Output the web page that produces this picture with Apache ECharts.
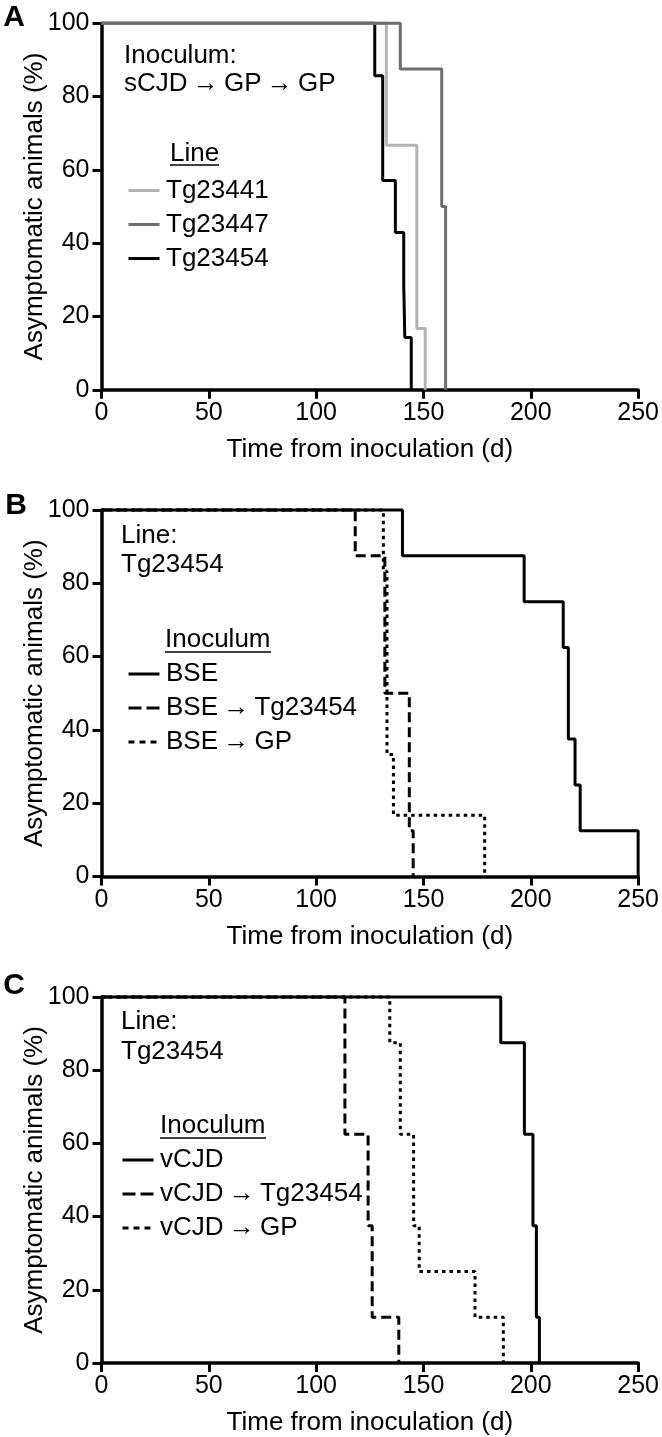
<!DOCTYPE html>
<html>
<head>
<meta charset="utf-8">
<script src="https://cdn.jsdelivr.net/npm/echarts@6/dist/echarts.min.js"></script>
<style>
  html, body { margin: 0; padding: 0; background: #fff; }
  #chart { width: 662px; height: 1437px; }
</style>
</head>
<body>
<div id="chart"></div>
<script>
// survival curves, [day, % asymptomatic]; each point is where the step lands
const tg23441 = [[0, 100], [132.7, 66.7], [146.9, 16.7], [150.8, 0]]
const tg23447 = [[0, 100], [139.2, 87.5], [158.5, 50], [160.3, 0]]
const tg23454 = [[0, 100], [127.3, 85.7], [131, 57.1], [136.9, 42.9], [140.8, 28.6], [141.3, 14.3], [144.3, 0]]

const bse = [[0, 100], [140.2, 87.5], [196.9, 75], [215.1, 62.5], [217.5, 37.5], [220.6, 25], [223, 12.5], [250, 0]]
const bseTg = [[0, 100], [118.2, 87.5], [132, 50], [143.4, 12.5], [145.2, 0]]
const bseGp = [[0, 100], [131.3, 83.3], [133, 33.3], [136, 16.7], [178.5, 0]]

const vcjd = [[0, 100], [186, 87.5], [197, 62.5], [201, 37.5], [202.6, 12.5], [204, 0]]
const vcjdTg = [[0, 100], [113.4, 62.5], [124.2, 37.5], [126.1, 12.5], [138.5, 0]]
const vcjdGp = [[0, 100], [134.3, 87.5], [139.2, 62.5], [145.4, 37.5], [148, 25], [174, 12.5], [187.2, 0]]

const legendA = ['Tg23441', 'Tg23447', 'Tg23454']
const legendB = ['BSE', 'BSE \u2192 Tg23454', 'BSE \u2192 GP']
const legendC = ['vCJD', 'vCJD \u2192 Tg23454', 'vCJD \u2192 GP']

const FONT = 'Liberation Sans, Arial, sans-serif'
const panelTops = [23.3, 510, 997]
const panelH = 366.5
const DASH = [10, 5]
const DOT = [3.5, 4]
// the figure uses a heavier arrow than the text
const arrowRich = { a: { fontSize: 26, fontWeight: 'bold', fontFamily: FONT, color: '#000' } }
const withArrow = s => s.split(' \u2192 ').join('{a|\u2009\u2192\u2009}')

const chart = echarts.init(document.getElementById('chart'), null, { renderer: 'canvas' })

function xAx(i) {
  return {
    type: 'value', gridIndex: i, min: 0, max: 250, interval: 50,
    name: 'Time from inoculation (d)', nameLocation: 'middle', nameGap: 47,
    nameTextStyle: { fontSize: 26, color: '#000', fontFamily: FONT },
    axisLine: { lineStyle: { color: '#000', width: 3.5 } },
    axisTick: { length: 9, lineStyle: { color: '#000', width: 3 } },
    axisLabel: { fontSize: 25, color: '#000', fontFamily: FONT, margin: 11 },
    splitLine: { show: false }
  }
}
function yAx(i) {
  return {
    type: 'value', gridIndex: i, min: 0, max: 100, interval: 20,
    name: 'Asymptomatic animals (%)', nameLocation: 'middle', nameGap: 54,
    nameMoveOverlap: false,
    nameTextStyle: { fontSize: 26, color: '#000', fontFamily: FONT },
    axisLine: { show: true, lineStyle: { color: '#000', width: 3.5 } },
    axisTick: { show: true, length: 9, lineStyle: { color: '#000', width: 3 } },
    axisLabel: { fontSize: 25, color: '#000', fontFamily: FONT, margin: 12 },
    splitLine: { show: false }
  }
}
function line(name, data, idx, color, type) {
  return {
    name: name, type: 'line', step: 'end', data: data,
    xAxisIndex: idx, yAxisIndex: idx,
    showSymbol: false, symbol: 'none', clip: false, animation: false,
    lineStyle: { color: color, width: 3, type: type, cap: 'butt' },
    itemStyle: { color: color }
  }
}
// legend samples: dashes drawn a bit longer than in the plot, as in the figure
function legend(names, left, top, styled) {
  const data = names.map((n, k) => {
    if (!styled) return { name: n }
    if (k === 1) return { name: n, lineStyle: { type: [13, 5] } }
    if (k === 2) return { name: n, lineStyle: { type: [6, 5] } }
    return { name: n }
  })
  return {
    data: data, orient: 'vertical', left: left, top: top,
    itemWidth: 31, itemHeight: 12, itemGap: 8, selectedMode: false,
    itemStyle: { opacity: 0 },
    lineStyle: { width: 3 },
    formatter: withArrow,
    textStyle: { fontSize: 26, lineHeight: 26, color: '#000', fontFamily: FONT, padding: [0, 0, 0, 1.5], rich: arrowRich }
  }
}
function txt(text, x, y) {
  return {
    type: 'text', x: x, y: y,
    style: { text: withArrow(text), fill: '#000', fontSize: 26, fontFamily: FONT, verticalAlign: 'middle', rich: arrowRich }
  }
}
function uline(x1, x2, y) {
  return { type: 'line', shape: { x1: x1, y1: y, x2: x2, y2: y }, style: { stroke: '#000', lineWidth: 1.5 } }
}
function letter(t, x, y) {
  return {
    type: 'text', x: x, y: y,
    style: { text: t, fill: '#000', fontSize: 30, fontWeight: 'bold', fontFamily: FONT, align: 'center', verticalAlign: 'middle' }
  }
}

const option = {
  backgroundColor: '#fff',
  animation: false,
  grid: panelTops.map(t => ({ left: 101.5, width: 539, top: t, height: panelH })),
  xAxis: [xAx(0), xAx(1), xAx(2)],
  yAxis: [yAx(0), yAx(1), yAx(2)],
  legend: [
    legend(legendA, 122, 172.5, false),
    legend(legendB, 122, 656, true),
    legend(legendC, 116, 1142, true)
  ],
  series: [
    line('Tg23454', tg23454, 0, '#000', 'solid'),
    line('Tg23441', tg23441, 0, '#b3b3b3', 'solid'),
    line('Tg23447', tg23447, 0, '#6e6e6e', 'solid'),
    line('BSE', bse, 1, '#000', 'solid'),
    line('BSE \u2192 Tg23454', bseTg, 1, '#000', DASH),
    line('BSE \u2192 GP', bseGp, 1, '#000', DOT),
    line('vCJD', vcjd, 2, '#000', 'solid'),
    line('vCJD \u2192 Tg23454', vcjdTg, 2, '#000', DASH),
    line('vCJD \u2192 GP', vcjdGp, 2, '#000', DOT)
  ],
  graphic: [
    letter('A', 14, 17.5),
    letter('B', 16, 506),
    letter('C', 14, 986),
    // panel A notes
    txt('Inoculum:', 124, 56),
    txt('sCJD \u2192 GP \u2192 GP', 124, 84),
    txt('Line', 170, 154),
    uline(170, 219, 165),
    // panel B notes
    txt('Line:', 121, 536),
    txt('Tg23454', 121, 565),
    txt('Inoculum', 165, 640),
    uline(165, 271, 652),
    // panel C notes
    txt('Line:', 121, 1022),
    txt('Tg23454', 121, 1052),
    txt('Inoculum', 160, 1126),
    uline(160, 266, 1138)
  ]
}
chart.setOption(option)
</script>
</body>
</html>
